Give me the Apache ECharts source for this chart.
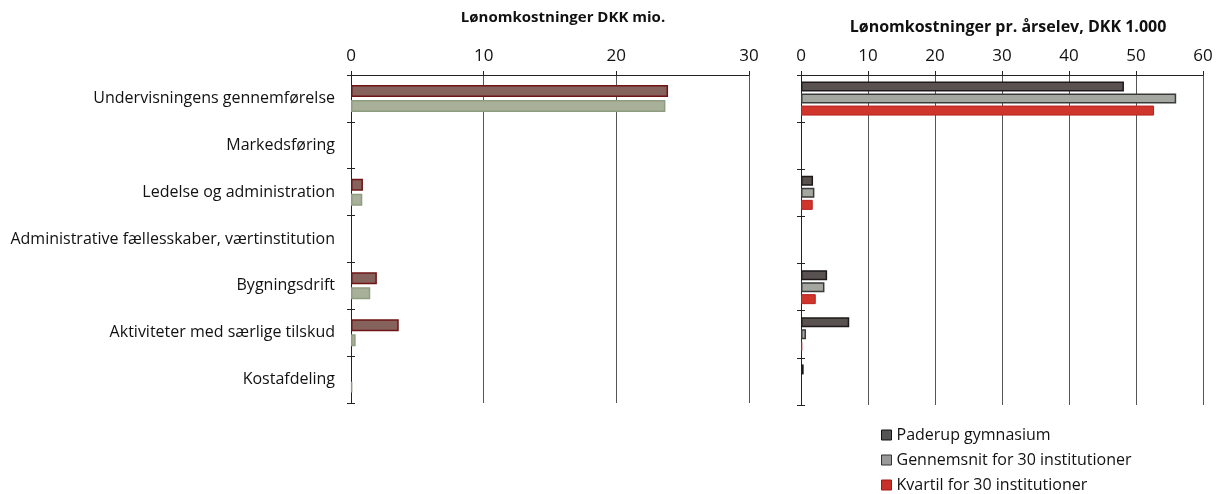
<!DOCTYPE html>
<html><head><meta charset="utf-8">
<script src="https://cdn.jsdelivr.net/npm/echarts@6/dist/echarts.min.js"></script>
<style>html,body{margin:0;padding:0;background:#fff}#c{width:1221px;height:494px}</style>
</head><body><div id="c"></div>
<script>
const categories = ["Undervisningens gennemførelse","Markedsføring","Ledelse og administration","Administrative fællesskaber, værtinstitution","Bygningsdrift","Aktiviteter med særlige tilskud","Kostafdeling"];
const seriesNames = ["Paderup gymnasium","Gennemsnit for 30 institutioner","Kvartil for 30 institutioner"];
// Left chart: Lønomkostninger DKK mio.
const leftPaderup = [23.9, 0, 0.9, 0, 1.95, 3.6, 0];
const leftGennemsnit = [23.7, 0, 0.85, 0, 1.45, 0.35, 0.1];
// Right chart: Lønomkostninger pr. årselev, DKK 1.000
const rightPaderup = [48.2, 0, 1.8, 0, 3.9, 7.2, 0.4];
const rightGennemsnit = [56.0, 0, 2.0, 0, 3.5, 0.75, 0];
const rightKvartil = [52.7, 0, 1.75, 0, 2.2, 0.2, 0];
const leftTicks = [0, 10, 20, 30];
const rightTicks = [0, 10, 20, 30, 40, 50, 60];

const FONT = 'Open Sans';
const chart = echarts.init(document.getElementById('c'));
const nz = arr => arr.map(v => v === 0 ? '-' : v);

function xAx(gi, ticks){
  return {type:'value', gridIndex:gi, position:'top', min:ticks[0], max:ticks[ticks.length-1], interval:ticks[1]-ticks[0],
    axisLine:{show:true, lineStyle:{color:'#222', width:1}},
    axisTick:{show:true, length:4, lineStyle:{color:'#222'}},
    axisLabel:{color:'#111', fontSize:17, fontFamily:FONT, margin:10},
    splitLine:{show:true, lineStyle:{color:'#555', width:1}}};
}
function yAx(gi, showLabel, inside){
  return {type:'category', gridIndex:gi, data:categories, inverse:true, position:'left',
    axisLine:{show:true, lineStyle:{color:'#222'}},
    axisTick:{show:true, inside:inside, length:4, lineStyle:{color:'#222'}},
    axisLabel:{show:showLabel, color:'#111', fontSize:16, fontFamily:FONT, margin:16},
    splitLine:{show:false}};
}
const legendColors = [
  {color:'#555', borderColor:'#111', borderWidth:1},
  {color:'#999', borderColor:'#333', borderWidth:1},
  {color:'#c8302a', borderColor:'#a01a1a', borderWidth:1}
];
const legends = seriesNames.map((n, i) => ({
  left:876, top:422 + i*25, itemWidth:10, itemHeight:10, icon:'rect', selectedMode:false,
  textStyle:{fontSize:16, color:'#111', fontFamily:FONT},
  data:[{name:n, itemStyle:legendColors[i]}]
}));

chart.setOption({
  animation:false,
  textStyle:{fontFamily:FONT},
  title:[
    {text:'Lønomkostninger DKK mio.', left:558, top:5, textAlign:'center',
      textStyle:{fontSize:15, fontWeight:'bold', color:'#111', fontFamily:FONT}},
    {text:'Lønomkostninger pr. årselev, DKK 1.000', left:1003, top:14, textAlign:'center',
      textStyle:{fontSize:16, fontWeight:'bold', color:'#111', fontFamily:FONT}}
  ],
  legend:legends,
  grid:[
    {left:351, width:398, top:75, height:328},
    {left:801, width:402, top:75, height:330}
  ],
  xAxis:[xAx(0, leftTicks), xAx(1, rightTicks)],
  yAxis:[yAx(0, true, false), yAx(0, false, true), yAx(1, false, false), yAx(1, false, true)],
  series:[
    {name:seriesNames[0], type:'bar', xAxisIndex:0, yAxisIndex:0, data:nz(leftPaderup), barWidth:12, barGap:'25%',
      itemStyle:{color:'#86625c', borderColor:'#6e1414', borderWidth:1.5}},
    {name:seriesNames[1], type:'bar', xAxisIndex:0, yAxisIndex:0, data:nz(leftGennemsnit), barWidth:12, barGap:'25%',
      itemStyle:{color:'#a9b09a', borderColor:'#8e9c80', borderWidth:1.5}},
    {name:seriesNames[0], type:'bar', xAxisIndex:1, yAxisIndex:2, data:nz(rightPaderup), barWidth:10, barGap:'20%',
      itemStyle:{color:'#5a5250', borderColor:'#1e1a1a', borderWidth:1.5}},
    {name:seriesNames[1], type:'bar', xAxisIndex:1, yAxisIndex:2, data:nz(rightGennemsnit), barWidth:10, barGap:'20%',
      itemStyle:{color:'#a4a6a0', borderColor:'#3a3a3a', borderWidth:1.5}},
    {name:seriesNames[2], type:'bar', xAxisIndex:1, yAxisIndex:2, data:nz(rightKvartil), barWidth:10, barGap:'20%',
      itemStyle:{color:'#d0352c', borderColor:'#b82020', borderWidth:1}}
  ]
});
</script></body></html>
